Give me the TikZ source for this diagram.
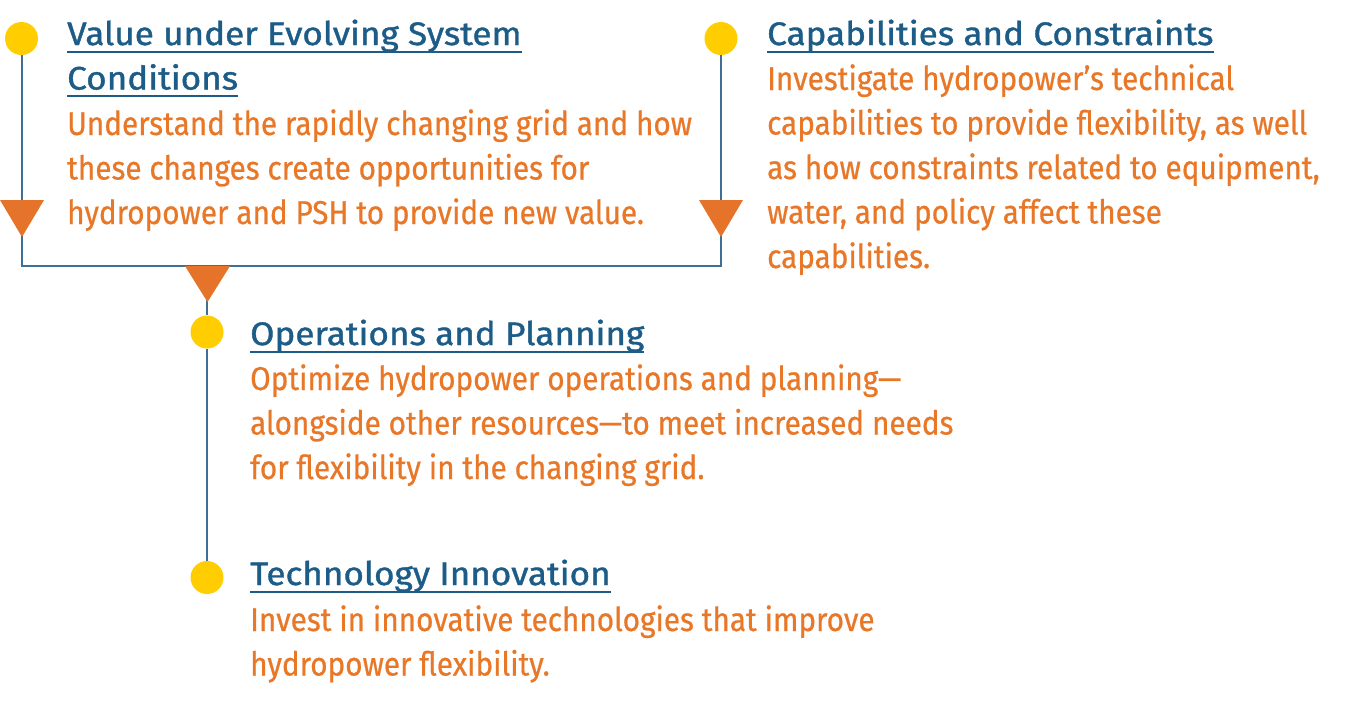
\documentclass[tikz,border=0pt]{standalone}
\usepackage{fontspec}
\setmainfont{Fira Sans}
\newfontfamily\titlefont[FakeStretch=1.08,FakeBold=1.2]{Fira Sans}
\newfontfamily\bodyfont[FakeStretch=0.9,FakeBold=0.6]{Fira Sans}
\definecolor{tblue}{HTML}{1C5C87}
\definecolor{torange}{HTML}{E87728}
\definecolor{triorange}{HTML}{E5732A}
\definecolor{dotyellow}{HTML}{FFCD00}
\definecolor{lineblue}{HTML}{3F6F95}
\newsavebox{\myulbox}
\newcommand{\myul}[1]{\leavevmode\sbox{\myulbox}{#1}\rlap{\rule[-7.5pt]{\wd\myulbox}{2pt}}\usebox{\myulbox}}
\newcommand{\blk}[1]{\parbox[t]{800pt}{\raggedright #1}}
\begin{document}
\begin{tikzpicture}[x=1pt,y=-1pt,
  title/.style={anchor=base west, inner sep=0pt, text=tblue,
    font=\titlefont\fontsize{32.5}{44.5}\selectfont},
  body/.style={anchor=base west, inner sep=0pt, text=torange,
    font=\bodyfont\fontsize{33}{44.5}\selectfont},
  dot/.style={circle, fill=dotyellow, minimum size=33pt, inner sep=0pt},
  conn/.style={draw=lineblue, line width=2pt},
  tri/.style={fill=triorange}]
\useasboundingbox (0,0) rectangle (1350,710);
% dots
\node[dot] (d1) at (21.5,38.5) {};
\node[dot] (d2) at (721,38.5) {};
\node[dot] (d3) at (207,332) {};
\node[dot] (d4) at (207,577.5) {};
\coordinate (c1) at (21.5,265.5);
\coordinate (c2) at (721,265.5);
\coordinate (c3) at (207,265.5);
% connectors
\draw[conn] (d1) -- (c1) -- (c2) -- (d2);
\draw[conn] (c3) -- (d3) -- (d4);
% triangles
\fill[tri] (0,200) -- (44,200) -- (22,237) -- cycle;
\fill[tri] (699,200) -- (743,200) -- (721,237) -- cycle;
\fill[tri] (185,266) -- (230,266) -- (207.5,302) -- cycle;
% texts
\node[title] (h1) at (67,45) {\blk{\myul{Value under Evolving System}\\\myul{Conditions}}};
\node[body] (b1) at (67,135) {\blk{Understand the rapidly changing grid and how\\these changes create opportunities for\\hydropower and PSH to provide new value.}};
\node[title] (h2) at (767,45) {\blk{\myul{Capabilities and Constraints}}};
\node[body] (b2) at (767,90) {\blk{Investigate hydropower’s technical\\capabilities to provide flexibility, as well\\as how constraints related to equipment,\\water, and policy affect these\\capabilities.}};
\node[title] (h3) at (250,345) {\blk{\myul{Operations and Planning}}};
\node[body] (b3) at (250,390) {\blk{Optimize hydropower operations and planning—\\alongside other resources—to meet increased needs\\for flexibility in the changing grid.}};
\node[title] (h4) at (250,585) {\blk{\myul{Technology Innovation}}};
\node[body] (b4) at (250,631) {\blk{Invest in innovative technologies that improve\\hydropower flexibility.}};
\end{tikzpicture}
\end{document}
